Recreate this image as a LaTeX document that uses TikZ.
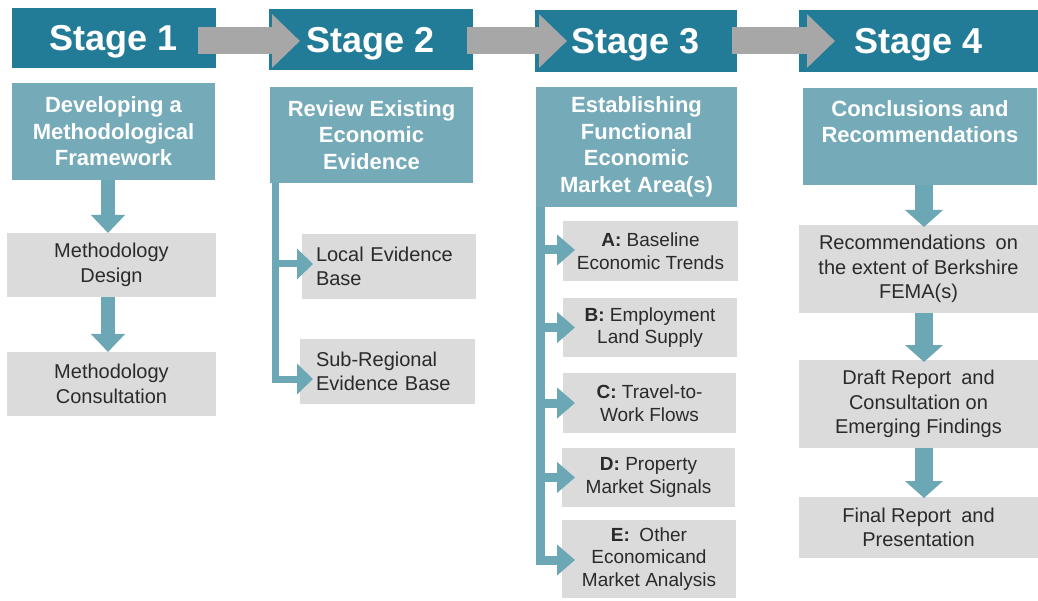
\documentclass[tikz,border=0pt]{standalone}
\usepackage{fontspec}
\setmainfont{Liberation Sans}
\usetikzlibrary{arrows.meta,calc}
\definecolor{hdr}{HTML}{237C97}
\definecolor{subc}{HTML}{75AAB8}
\definecolor{tealarr}{HTML}{6BA7B5}
\definecolor{graybox}{HTML}{DBDBDB}
\definecolor{grayarr}{HTML}{A7A7A7}
\definecolor{txt}{HTML}{2A2A2A}
\tikzset{
  box/.style={anchor=north west, inner sep=0pt, outer sep=0pt, draw=none},
  hdrbox/.style={box, fill=hdr, text=white, text depth=0pt, font=\bfseries\fontsize{36}{40}\selectfont},
  subbox/.style={box, fill=subc, text=white, align=center, font=\bfseries\fontsize{22}{26.5}\selectfont},
  gbox/.style={box, fill=graybox, text=txt, align=center, font=\fontsize{20}{24.5}\selectfont},
  gboxs/.style={box, fill=graybox, text=txt, align=center, font=\fontsize{19}{22.5}\selectfont},
  gboxl/.style={box, fill=graybox, text=txt, align=left, font=\fontsize{20}{24.5}\selectfont},
  grayarrow/.style={draw=grayarr, line width=27pt, -{Triangle[width=52pt,length=28pt]}},
  vfat/.style={draw=tealarr, line width=14pt, -{Triangle[width=33pt,length=18pt]}},
  vfatb/.style={draw=tealarr, line width=18pt, -{Triangle[width=37pt,length=17pt]}},
  branchtwo/.style={draw=tealarr, line width=7pt, -{Triangle[width=30pt,length=16pt]}},
  branchthree/.style={draw=tealarr, line width=9pt, -{Triangle[width=30pt,length=18pt]}},
}
\begin{document}
\begin{tikzpicture}[x=1pt,y=-1pt]
\useasboundingbox[fill=white] (0,0) rectangle (1038,601);
% stage headers
\node[hdrbox, minimum width=204pt, minimum height=60pt] (s1) at (12,8) {Stage 1};
\node[hdrbox, minimum width=204pt, minimum height=61pt] (s2) at (269,9) {Stage 2};
\node[hdrbox, minimum width=202pt, minimum height=62pt] (s3) at (535,10) {Stage 3};
\node[hdrbox, minimum width=239pt, minimum height=62pt] (s4) at (799,10) {Stage 4};
% sub headers
\node[subbox, minimum width=203pt, minimum height=97pt] (s1sub) at (12,83) {Developing a\\Methodological\\Framework};
\node[subbox, minimum width=203pt, minimum height=96pt] (s2sub) at (270,87) {Review Existing\\Economic\\Evidence};
\node[subbox, minimum width=201pt, minimum height=120pt] (s3sub) at (536,87) {Establishing\\Functional\\Economic\\Market Area(s)};
\node[box, fill=subc, minimum width=234pt, minimum height=97pt] (s4sub) at (803,88) {};
\node[anchor=north, inner sep=0pt, text=white, align=center, font=\bfseries\fontsize{22}{26.5}\selectfont] (s4subtxt) at ($(s4sub.north)+(0,12)$) {Conclusions and\\Recommendations};
% stage 1 boxes
\node[gbox, minimum width=209pt, minimum height=64pt] (md) at (7,233) {Methodology\\Design};
\node[gbox, minimum width=209pt, minimum height=64pt] (mc) at (7,352) {Methodology\\Consultation};
% stage 2 boxes
\node[gboxl, inner xsep=14pt, text width=146pt, minimum height=65pt] (loc) at (302,234) {Local Evidence\\Base};
\node[gboxl, inner xsep=16pt, text width=143pt, minimum height=65pt] (subr) at (300,339) {Sub-Regional\\Evidence Base};
% stage 3 boxes
\node[gboxs, minimum width=175pt, minimum height=60pt] (ba) at (563,221) {\textbf{A:} Baseline\\Economic Trends};
\node[gboxs, minimum width=174pt, minimum height=59pt] (bb) at (563,298) {\textbf{B:} Employment\\Land Supply};
\node[gboxs, minimum width=173pt, minimum height=60pt] (bc) at (563,373) {\textbf{C:} Travel-to-\\Work Flows};
\node[gboxs, minimum width=173pt, minimum height=59pt] (bd) at (562,448) {\textbf{D:} Property\\Market Signals};
\node[gboxs, minimum width=174pt, minimum height=78pt] (be) at (562,520) {\textbf{E:}\enspace Other\\Economicand\\Market Analysis};
% stage 4 boxes
\node[gbox, minimum width=239pt, minimum height=88pt] (rec) at (799,225) {Recommendations\enspace on\\the extent of Berkshire\\FEMA(s)};
\node[gbox, minimum width=239pt, minimum height=88pt] (draft) at (799,360) {Draft Report\enspace and\\Consultation on\\Emerging Findings};
\node[gbox, minimum width=239pt, minimum height=61pt] (final) at (799,497) {Final Report\enspace and\\Presentation};
% gray stage arrows
\draw[grayarrow] ($(s1.east |- 0,41)+(-18,0)$) -- ($(s2.west |- 0,41)+(31,0)$);
\draw[grayarrow] ($(s2.east |- 0,41)+(-6,0)$) -- ($(s3.west |- 0,41)+(32,0)$);
\draw[grayarrow] ($(s3.east |- 0,41)+(-5,0)$) -- ($(s4.west |- 0,41)+(36,0)$);
% stage 1 arrows
\draw[vfat] (s1sub.south -| 108,0) -- (md.north -| 108,0);
\draw[vfat] (md.south -| 108,0) -- (mc.north -| 108,0);
% stage 2 branches
\draw[branchtwo] (s2sub.south -| 275.5,0) |- ($(loc.west)+(11,-2.5)$);
\draw[branchtwo] (s2sub.south -| 275.5,0) |- ($(subr.west)+(13,7.5)$);
% stage 3 branches
\draw[branchthree] (s3sub.south -| 540,0) |- ($(ba.west)+(12,-1)$);
\draw[branchthree] (s3sub.south -| 540,0) |- ($(bb.west)+(12,0)$);
\draw[branchthree] (s3sub.south -| 540,0) |- ($(bc.west)+(12,0)$);
\draw[branchthree] (s3sub.south -| 540,0) |- ($(bd.west)+(13,0)$);
\draw[branchthree] (s3sub.south -| 540,0) |- ($(be.west)+(13,1)$);
% stage 4 arrows
\draw[vfatb] (s4sub.south -| 924,0) -- ($(rec.north -| 924,0)+(0,2)$);
\draw[vfatb] (rec.south -| 924,0) -- ($(draft.north -| 924,0)+(0,2)$);
\draw[vfatb] (draft.south -| 924,0) -- ($(final.north -| 924,0)+(0,1)$);
\end{tikzpicture}
\end{document}
